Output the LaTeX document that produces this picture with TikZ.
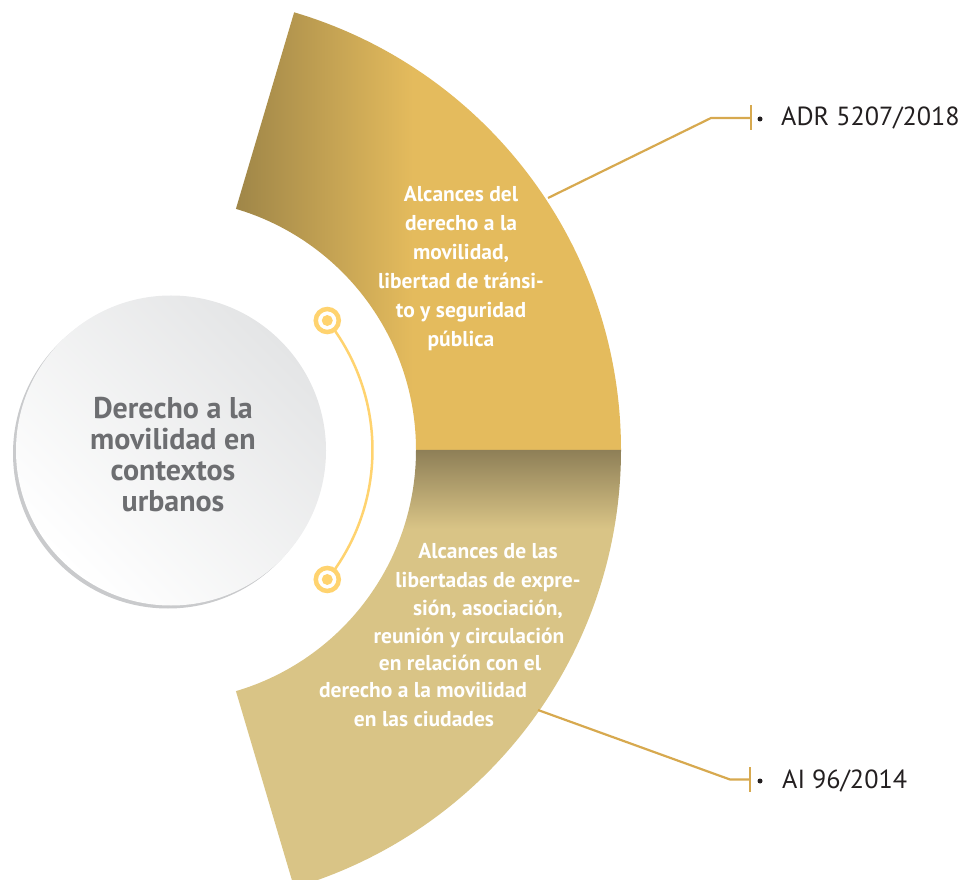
\documentclass[tikz,border=0pt]{standalone}
\usepackage{fontspec}
\setmainfont{PT Sans}
\usetikzlibrary{calc}
\usetikzlibrary{shadows}

\definecolor{goldtop}{HTML}{E4BB5D}
\definecolor{golddeep}{HTML}{9F8648}
\definecolor{sand}{HTML}{D9C486}
\definecolor{sanddeep}{HTML}{8E7F57}
\definecolor{ringyellow}{HTML}{FFD36F}
\definecolor{leadergold}{HTML}{D7A94F}
\definecolor{hubtext}{HTML}{6D6E71}
\definecolor{labeltext}{HTML}{231F20}
\definecolor{rimgray}{HTML}{C9CACC}
\definecolor{discgray}{HTML}{E4E5E6}

\pgfdeclarehorizontalshading{goldfade}{100bp}{color(0bp)=(golddeep); color(25bp)=(golddeep); color(48bp)=(goldtop); color(100bp)=(goldtop)}
\pgfdeclareverticalshading{sandfade}{100bp}{color(0bp)=(sand); color(66bp)=(sand); color(75bp)=(sanddeep); color(100bp)=(sanddeep)}

\tikzset{
  hubdisc/.style={circle, minimum size=310pt, inner sep=0pt, align=center,
    top color=discgray, bottom color=white, shading angle=-45,
    drop shadow={shadow xshift=-3pt, shadow yshift=-3pt, fill=rimgray, opacity=1},
    text=hubtext, font=\bfseries\fontsize{30}{31}\selectfont},
  sectortext/.style={text=white, inner sep=0pt, align=center, font=\bfseries\fontsize{21.5}{29}\selectfont},
  casetext/.style={text=labeltext, inner sep=0pt, font=\fontsize{26.2}{30}\selectfont},
  bulletdot/.style={circle, fill=labeltext, minimum size=5pt, inner sep=0pt},
  ringmark/.style={circle, draw=ringyellow, line width=4.5pt, fill=white, minimum size=23pt, inner sep=0pt,
    path picture={\fill[ringyellow] (path picture bounding box.center) circle (5.5pt);}},
  arcline/.style={ringyellow, line width=2.5pt},
  leader/.style={leadergold, line width=2.2pt}
}

\begin{document}
\begin{tikzpicture}[x=1pt,y=1pt]%mobility wheel
\useasboundingbox (0,0) rectangle (966,879);
\coordinate (hub) at (164.5,429);
% the two ring sectors
\begin{scope}[shift={(hub)}]
\clip (-164.5,-429) rectangle (801.5,450);
\shade[shading=goldfade] (73.5:251.5) -- (73.5:456.5) arc[start angle=73.5,end angle=0,radius=456.5]
  -- (0:251.5) arc[start angle=0,end angle=73.5,radius=251.5] -- cycle;
\shade[shading=sandfade] (0:251.5) -- (0:456.5) arc[start angle=0,end angle=-73.5,radius=456.5]
  -- (-73.5:251.5) arc[start angle=-73.5,end angle=0,radius=251.5] -- cycle;
\end{scope}
% centre disc
\node[hubdisc] (disc) at (171,428.5) {};
\node[text=hubtext, align=center, inner sep=0pt, font=\bfseries\fontsize{30}{31}\selectfont] (disctext) at (173,424.5)
  {Derecho a la\\movilidad en\\contextos\\urbanos};
% yellow arc with its two marks
\coordinate (ringtop) at ($(hub)+(38.5:208)$);
\coordinate (ringbot) at ($(hub)+(-38.5:208)$);
\draw[arcline] (ringtop) arc[start angle=38.5,end angle=-38.5,radius=208];
\node[ringmark] (marktop) at (ringtop) {};
\node[ringmark] (markbot) at (ringbot) {};
% sector texts
\node[sectortext, anchor=north] (topnote) at (461,693)
  {Alcances del\\derecho a la\\movilidad,\\libertad de tránsi-\\to y seguridad\\pública};
\foreach \cx/\by/\txt [count=\i] in {488/321/Alcances de las, 488/292/libertadas de expre-,
  488/264/{sión, asociación,}, 469/236/reunión y circulación, 460/209/en relación con el,
  423/182/derecho a la movilidad, 424/153/en las ciudades}
  \node[sectortext, anchor=base] (low\i) at (\cx,\by) {\txt};
% leaders to the cases
\coordinate (topfoot) at (548,681);
\coordinate (topbend) at (711,761);
\coordinate (toptick) at (751,761);
\draw[leader] (topfoot) -- (topbend) -- (toptick);
\draw[leader] ([yshift=12.5pt]toptick) -- ([yshift=-12.5pt]toptick);
\node[bulletdot] (topdot) at (760,760) {};
\node[casetext, anchor=base west] (topcase) at (781,753) {ADR 5207/2018};
\coordinate (lowfoot) at (538,169);
\coordinate (lowbend) at (730,99.5);
\coordinate (lowtick) at (750,99.5);
\draw[leader] (lowfoot) -- (lowbend) -- (lowtick);
\draw[leader] ([yshift=12.5pt]lowtick) -- ([yshift=-12.5pt]lowtick);
\node[bulletdot] (lowdot) at (760,98) {};
\node[casetext, anchor=base west] (lowcase) at (782,91) {AI 96/2014};
\end{tikzpicture}
\end{document}
